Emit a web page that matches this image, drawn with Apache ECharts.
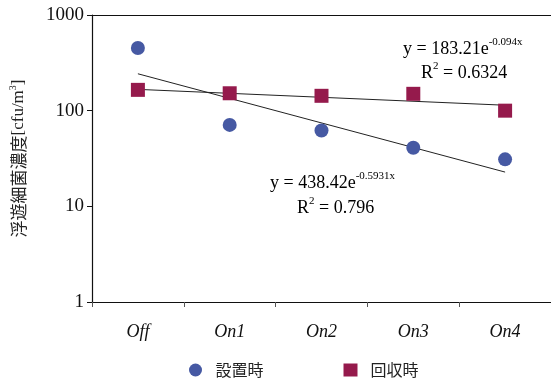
<!DOCTYPE html>
<html><head><meta charset="utf-8">
<script src="https://cdn.jsdelivr.net/npm/echarts@6/dist/echarts.min.js"></script>
<style>html,body{margin:0;padding:0;background:#fff}#c{width:551px;height:379px}</style>
</head><body><div id="c"></div>
<script>
const categories = ['Off', 'On1', 'On2', 'On3', 'On4'];
const setupValues = [452, 71, 62, 41, 31];      // 設置時
const recoveryValues = [165, 152, 143, 150, 100]; // 回収時
// trend line end points (straight in log scale)
const setupTrend = [243, null, null, null, 22.8];
const recoveryTrend = [167, null, null, null, 114];
const yTicks = [1, 10, 100, 1000];

const serif = '"Liberation Serif", "Times New Roman", serif';
const cjk = '"Noto Sans CJK JP", sans-serif';
const chart = echarts.init(document.getElementById('c'));
const sup = { fontSize: 11, fontFamily: serif, verticalAlign: 'top', color: '#111' };
const base = { fontSize: 18, fontFamily: serif, lineHeight: 24, color: '#111' };
chart.setOption({
  backgroundColor: '#fff',
  animation: false,
  grid: { left: 90, right: 0, top: 15, bottom: 77, show: false },
  xAxis: [{
    type: 'category', data: categories, boundaryGap: true,
    axisLine: { lineStyle: { color: '#111', width: 1.2 } },
    axisTick: { show: true, length: 5, lineStyle: { color: '#555' } },
    axisLabel: { fontFamily: serif, fontStyle: 'italic', fontSize: 18, color: '#111', margin: 21 }
  }, {
    type: 'category', data: categories, position: 'top',
    axisLine: { show: true, lineStyle: { color: '#111', width: 1 } },
    axisTick: { show: false }, axisLabel: { show: false }
  }],
  yAxis: {
    type: 'log', logBase: 10, min: yTicks[0], max: yTicks[yTicks.length - 1],
    axisLine: { show: true, lineStyle: { color: '#111', width: 1.2 } },
    axisTick: { show: true, length: 5, lineStyle: { color: '#111' } },
    splitLine: { show: false },
    minorTick: { show: false },
    axisLabel: { fontFamily: serif, fontSize: 19, color: '#111', margin: 8, formatter: v => String(v) },
    name: '{c|浮遊細菌濃度}{e|[cfu/m}{s|3}{e|]}',
    nameLocation: 'middle', nameRotate: 90, nameGap: 62,
    nameTextStyle: { color: '#222', lineHeight: 22,
      rich: {
        c: { fontFamily: cjk, fontSize: 17, color: '#222', lineHeight: 22 },
        e: { fontFamily: serif, fontSize: 17, color: '#222', lineHeight: 22 },
        s: { fontSize: 10, fontFamily: serif, verticalAlign: 'top', color: '#222' } } }
  },
  legend: {
    data: ['設置時', '回収時'], left: 184, top: 357, itemGap: 80,
    itemWidth: 14, itemHeight: 13,
    textStyle: { fontFamily: cjk, fontSize: 16, color: '#222', padding: [0, 0, 0, 8] }
  },
  series: [
    { name: 'trend1', type: 'line', data: setupTrend, connectNulls: true, symbol: 'none',
      lineStyle: { color: '#222', width: 1 }, z: 1, silent: true },
    { name: 'trend2', type: 'line', data: recoveryTrend, connectNulls: true, symbol: 'none',
      lineStyle: { color: '#222', width: 1 }, z: 1, silent: true },
    { name: '設置時', type: 'scatter', data: setupValues, symbol: 'circle', symbolSize: 14,
      itemStyle: { color: '#4659a3', opacity: 1 }, z: 3 },
    { name: '回収時', type: 'scatter', data: recoveryValues, symbol: 'rect', symbolSize: 14,
      itemStyle: { color: '#951a4c', opacity: 1 }, z: 3 }
  ],
  graphic: [
    { type: 'text', x: 403, y: 37, style: { text: '{b|y = 183.21e}{s|-0.094x}', rich: { b: base, s: sup } } },
    { type: 'text', x: 421, y: 61, style: { text: '{b|R}{s|2}{b| = 0.6324}', rich: { b: base, s: sup } } },
    { type: 'text', x: 270, y: 171, style: { text: '{b|y = 438.42e}{s|-0.5931x}', rich: { b: base, s: sup } } },
    { type: 'text', x: 297, y: 196, style: { text: '{b|R}{s|2}{b| = 0.796}', rich: { b: base, s: sup } } }
  ]
});
</script></body></html>
